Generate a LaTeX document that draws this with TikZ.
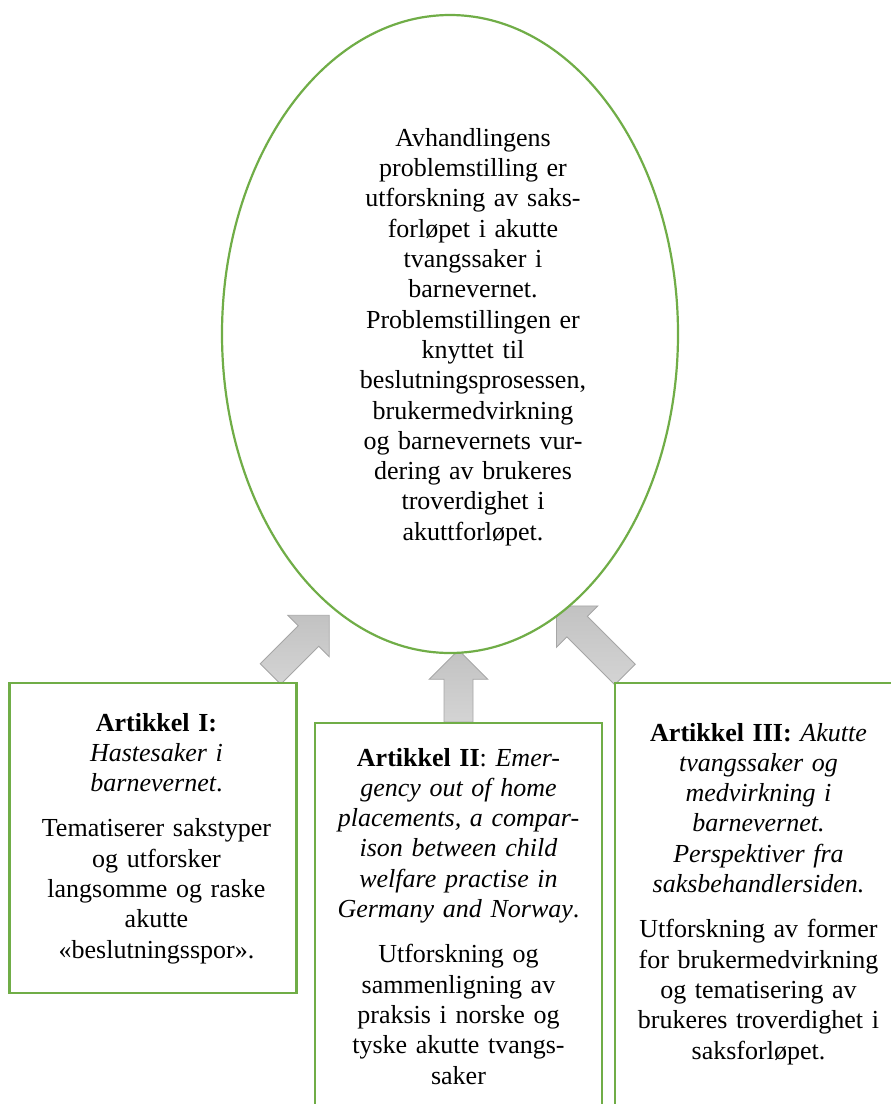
\documentclass[tikz,border=0pt]{standalone}
\usepackage{fontspec}
\setmainfont{Liberation Serif}
\usetikzlibrary{shapes.geometric,positioning}

\definecolor{artgreen}{RGB}{112,173,71}
\definecolor{arrowedge}{RGB}{166,166,166}
\definecolor{arrowdark}{RGB}{194,194,194}
\definecolor{arrowlight}{RGB}{212,212,212}

% block arrow: base point, angle, length
\newcommand{\grayarrow}[3]{%
  \begin{scope}[shift={#1}, rotate=#2]
    \draw[arrowbody] (0,-14.5) -- (#3-29.3,-14.5) -- (#3-29.3,-29.3) -- (#3,0)
      -- (#3-29.3,29.3) -- (#3-29.3,14.5) -- (0,14.5) -- cycle;
  \end{scope}}

\begin{document}
\begin{tikzpicture}[x=1pt, y=-1pt,
    txt/.style={font=\fontsize{26}{30.3}\selectfont, align=center, inner sep=0pt, text width=290pt},
    artbox/.style={draw=artgreen, line width=2.5pt, fill=white, minimum width=287pt},
    arrowbody/.style={draw=arrowedge, line width=0.8pt, top color=arrowdark, bottom color=arrowlight}]
  \path[use as bounding box, clip] (0,0) rectangle (891,1104);

  % arrows go below the ellipse and the boxes
  \grayarrow{(270.5,674)}{45}{83}
  \grayarrow{(458.5,722)}{90}{72}
  \grayarrow{(625,674.5)}{135}{97}

  \node[ellipse, draw=artgreen, line width=2.2pt, fill=white, inner sep=0pt,
        minimum width=456pt, minimum height=638pt] (goal) at (450,334) {};
  \node[txt] (goaltext) at (473,337)
    {Avhandlingens\\ problemstilling er\\ utforskning av saks-\\ forløpet i akutte\\
     tvangssaker i\\ barnevernet.\\ Problemstillingen er\\ knyttet til\\
     beslutningsprosessen,\\ brukermedvirkning\\ og barnevernets vur-\\
     dering av brukeres\\ troverdighet i\\ akuttforløpet.};

  \node[artbox, minimum height=310pt] (art1) at (153,838) {};
  \node[txt, below=31pt of art1.north, xshift=3.5pt] (art1text)
    {\textbf{Artikkel I:}\\ \textit{Hastesaker i}\\ \textit{barnevernet}.\\[15pt]
     Tematiserer sakstyper\\ og utforsker\\ langsomme og raske\\ akutte\\ «beslutningsspor».};

  \node[artbox, minimum height=392pt] (art2) at (458.5,919) {};
  \node[txt, below=26pt of art2.north] (art2text)
    {\textbf{Artikkel II}: \textit{Emer-}\\ \textit{gency out of home}\\
     \textit{placements, a compar-}\\ \textit{ison between child}\\
     \textit{welfare practise in}\\ \textit{Germany and Norway}.\\[15pt]
     Utforskning og\\ sammenligning av\\ praksis i norske og\\ tyske akutte tvangs-\\ saker};

  \node[artbox, minimum height=432pt] (art3) at (758.5,899) {};
  \node[txt, below=41pt of art3.north] (art3text)
    {\textbf{Artikkel III:} \textit{Akutte}\\ \textit{tvangssaker og}\\ \textit{medvirkning i}\\
     \textit{barnevernet.}\\ \textit{Perspektiver fra}\\ \textit{saksbehandlersiden.}\\[15pt]
     Utforskning av former\\ for brukermedvirkning\\ og tematisering av\\
     brukeres troverdighet i\\ saksforløpet.};
\end{tikzpicture}
\end{document}
